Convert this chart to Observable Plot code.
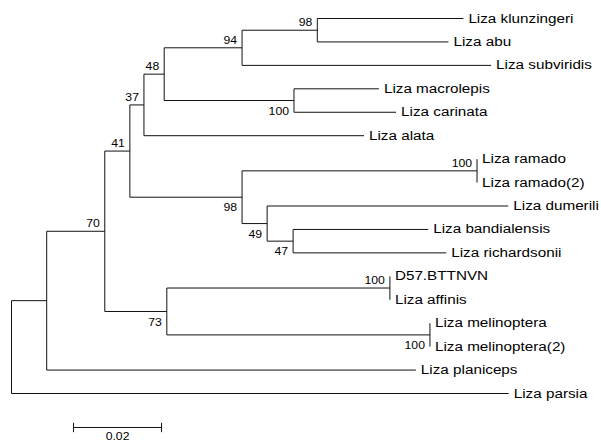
<!DOCTYPE html>
<html><head><meta charset="utf-8">
<script src="https://cdn.jsdelivr.net/npm/d3@7"></script>
<script src="https://cdn.jsdelivr.net/npm/@observablehq/plot@0.6"></script>
<style>html,body{margin:0;padding:0;background:#fff} svg{display:block}</style>
</head><body><div id="chart"></div>
<script>
// Tree nodes, parents listed before children, children in top-to-bottom order
const nodeIds = ["root","n1","n2","n3","n4","n5","n6","n7",
  "Liza klunzingeri","Liza abu","Liza subviridis","n8","Liza macrolepis","Liza carinata",
  "Liza alata","n9","n10","Liza ramado","Liza ramado(2)","n11","Liza dumerili","n12",
  "Liza bandialensis","Liza richardsonii","n13","n14","D57.BTTNVN","Liza affinis","n15",
  "Liza melinoptera","Liza melinoptera(2)","Liza planiceps","Liza parsia"];
const parents = [null,"root","n1","n2","n3","n4","n5","n6",
  "n7","n7","n6","n5","n8","n8",
  "n4","n3","n9","n10","n10","n9","n11","n11",
  "n12","n12","n2","n13","n14","n14","n13",
  "n15","n15","n1","root"];
// branch lengths (substitutions per site)
const branchLengths = [0,0.0080,0.0132,0.0057,0.0032,0.0046,0.0177,0.0171,
  0.0332,0.0298,0.0566,0.0295,0.0193,0.0232,
  0.0500,0.0255,0.0534,0,0,0.0057,0.0548,0.0059,
  0.0307,0.0348,0.0141,0.0507,0,0,0.0598,
  0,0,0.0839,0.1130];
// bootstrap support
const bootstraps = [null,null,70,41,37,48,94,98,
  null,null,null,100,null,null,
  null,98,100,null,null,49,null,47,
  null,null,73,100,null,null,100,
  null,null,null,null];
const scaleBarLength = 0.02;
const scaleBarLabel = "0.02";

// build tree
const nodes = nodeIds.map((id, i) => ({id, parent: parents[i], length: branchLengths[i], support: bootstraps[i], children: []}));
const byId = new Map(nodes.map(n => [n.id, n]));
nodes.forEach(n => { if (n.parent) byId.get(n.parent).children.push(n); });
nodes.forEach(n => { n.depth = n.parent ? byId.get(n.parent).depth + n.length : 0; });
let leafCount = 0;
(function place(n) {
  if (!n.children.length) { n.row = leafCount++; return; }
  n.children.forEach(place);
  n.row = (n.children[0].row + n.children[n.children.length - 1].row) / 2;
})(byId.get("root"));
const leaves = nodes.filter(n => !n.children.length);
const internal = nodes.filter(n => n.children.length);
const branches = nodes.filter(n => n.parent);
const isUpper = n => n.parent && byId.get(n.parent).children[0] === n;
const supported = internal.filter(n => n.support != null);

const font = "'Liberation Sans', Arial, sans-serif";
const scaleStart = 0.0141, scaleRow = 17.45;
const ink = "#111";

const chart = Plot.plot({
  width: 601, height: 443,
  x: {domain: [0, 0.13], range: [11, 583], axis: null},
  y: {domain: [0, leafCount - 1], range: [18, 393], axis: null},
  style: {background: "#fff"},
  marks: [
    Plot.link(branches, {x1: n => byId.get(n.parent).depth, x2: "depth", y1: "row", y2: "row", stroke: ink, strokeWidth: 1}),
    Plot.link(internal, {x1: "depth", x2: "depth", y1: n => n.children[0].row, y2: n => n.children[n.children.length - 1].row, stroke: ink, strokeWidth: 1}),
    Plot.text(leaves, {x: "depth", y: "row", text: "id", textAnchor: "start", dx: 5, fontSize: 12.5, fontFamily: font, fill: "#000"}),
    Plot.text(supported.filter(isUpper), {x: "depth", y: "row", text: "support", textAnchor: "end", dx: -5, dy: -7.5, fontSize: 10, fontFamily: font, fill: "#000"}),
    Plot.text(supported.filter(n => !isUpper(n)), {x: "depth", y: "row", text: "support", textAnchor: "end", dx: -5, dy: 11, fontSize: 10, fontFamily: font, fill: "#000"}),
    // scale bar
    Plot.link([scaleBarLength], {x1: () => scaleStart, x2: d => scaleStart + d, y1: () => scaleRow, y2: () => scaleRow, stroke: ink, strokeWidth: 1}),
    Plot.link([0, scaleBarLength], {x1: d => scaleStart + d, x2: d => scaleStart + d, y1: () => scaleRow - 0.2, y2: () => scaleRow + 0.2, stroke: ink, strokeWidth: 1}),
    Plot.text([scaleBarLabel], {x: () => scaleStart + scaleBarLength / 2, y: () => scaleRow, text: d => d, dy: 9.5, fontSize: 10, fontFamily: font, fill: "#000"})
  ]
});
document.getElementById("chart").append(chart);
chart.querySelectorAll("text").forEach(t => {
  const w = t.getComputedTextLength();
  if (w > 0) { t.setAttribute("textLength", (w * 1.22).toFixed(1)); t.setAttribute("lengthAdjust", "spacingAndGlyphs"); }
});
</script>
</body></html>
